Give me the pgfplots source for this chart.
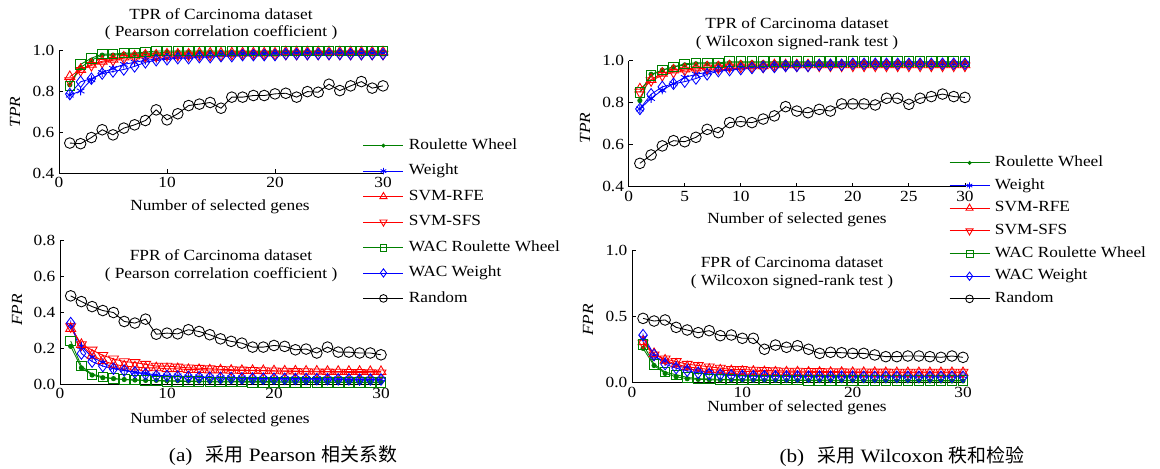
\documentclass[border=0pt]{standalone}
\usepackage{pgfplots}
\usepackage{pgfplotstable}
\pgfplotsset{compat=1.18}
\usepackage{fontspec}
\setmainfont{Liberation Serif}[FakeStretch=1.12]
\newfontfamily\cjk{Noto Sans CJK SC}
\newcommand\chartfont{\fontsize{11.6}{13.5}\selectfont}
\newcommand\capfont{\fontsize{14.2}{16}\selectfont}

\definecolor{mgreen}{RGB}{0,128,0}
\definecolor{mblue}{RGB}{0,0,255}
\definecolor{mred}{RGB}{255,0,0}

% columns: rw = Roulette Wheel, w = Weight, rfe = SVM-RFE, sfs = SVM-SFS,
% wrw = WAC Roulette Wheel, ww = WAC Weight, rnd = Random
\pgfplotstableread{
x  rw    w     rfe   sfs   wrw   ww    rnd
1  0.830 0.780 0.870 0.850 0.825 0.785 0.546
2  0.915 0.800 0.905 0.900 0.930 0.845 0.543
3  0.950 0.855 0.930 0.925 0.960 0.860 0.573
4  0.975 0.890 0.945 0.940 0.980 0.885 0.611
5  0.975 0.910 0.955 0.950 0.980 0.895 0.586
6  0.980 0.930 0.965 0.960 0.985 0.905 0.619
7  0.980 0.940 0.970 0.965 0.985 0.920 0.635
8  0.985 0.950 0.975 0.970 0.990 0.940 0.656
9  0.985 0.955 0.975 0.970 0.995 0.950 0.708
10 0.990 0.960 0.980 0.975 0.995 0.955 0.659
11 0.990 0.965 0.980 0.975 0.995 0.960 0.689
12 0.990 0.965 0.980 0.975 0.995 0.960 0.729
13 0.990 0.970 0.985 0.975 0.995 0.965 0.736
14 0.990 0.970 0.985 0.975 0.995 0.965 0.744
15 0.990 0.975 0.985 0.975 0.995 0.970 0.716
16 0.990 0.975 0.985 0.980 0.995 0.970 0.770
17 0.990 0.980 0.985 0.980 0.995 0.975 0.770
18 0.990 0.980 0.985 0.980 0.995 0.975 0.778
19 0.990 0.980 0.985 0.980 0.995 0.975 0.778
20 0.990 0.985 0.985 0.980 0.995 0.975 0.786
21 0.990 0.985 0.990 0.980 0.995 0.980 0.789
22 0.990 0.985 0.990 0.980 0.995 0.980 0.770
23 0.990 0.985 0.990 0.980 0.995 0.980 0.797
24 0.990 0.985 0.990 0.980 0.995 0.980 0.794
25 0.990 0.985 0.990 0.980 0.995 0.980 0.833
26 0.990 0.985 0.990 0.980 0.995 0.980 0.802
27 0.990 0.985 0.990 0.980 0.995 0.980 0.825
28 0.990 0.985 0.990 0.980 0.995 0.980 0.846
29 0.990 0.985 0.990 0.980 0.995 0.980 0.814
30 0.990 0.985 0.990 0.980 0.995 0.980 0.825
}\tprPearson

\pgfplotstableread{
x  rw    w     rfe   sfs   wrw   ww    rnd
1  0.210 0.330 0.310 0.320 0.240 0.340 0.492
2  0.090 0.210 0.220 0.220 0.100 0.170 0.460
3  0.050 0.150 0.160 0.190 0.055 0.125 0.432
4  0.035 0.120 0.130 0.160 0.040 0.100 0.410
5  0.030 0.090 0.110 0.140 0.030 0.085 0.399
6  0.025 0.080 0.100 0.125 0.025 0.075 0.349
7  0.022 0.065 0.095 0.120 0.022 0.065 0.340
8  0.020 0.060 0.090 0.110 0.020 0.055 0.362
9  0.020 0.050 0.090 0.100 0.018 0.045 0.278
10 0.018 0.045 0.085 0.100 0.015 0.045 0.284
11 0.018 0.045 0.085 0.095 0.015 0.042 0.280
12 0.016 0.040 0.080 0.090 0.014 0.040 0.303
13 0.016 0.040 0.080 0.088 0.013 0.038 0.293
14 0.015 0.038 0.078 0.085 0.012 0.036 0.275
15 0.015 0.036 0.078 0.082 0.012 0.035 0.252
16 0.015 0.035 0.076 0.080 0.011 0.034 0.238
17 0.014 0.034 0.075 0.078 0.011 0.032 0.228
18 0.014 0.033 0.075 0.076 0.010 0.031 0.206
19 0.013 0.032 0.074 0.075 0.010 0.030 0.206
20 0.013 0.032 0.073 0.073 0.010 0.030 0.215
21 0.012 0.031 0.072 0.072 0.010 0.029 0.210
22 0.012 0.030 0.072 0.070 0.010 0.028 0.191
23 0.012 0.030 0.071 0.069 0.009 0.028 0.195
24 0.011 0.030 0.071 0.068 0.009 0.027 0.173
25 0.011 0.029 0.070 0.067 0.009 0.027 0.206
26 0.011 0.029 0.070 0.066 0.009 0.026 0.178
27 0.010 0.028 0.070 0.065 0.008 0.026 0.178
28 0.010 0.028 0.070 0.064 0.008 0.025 0.173
29 0.010 0.028 0.069 0.063 0.008 0.025 0.173
30 0.010 0.027 0.069 0.062 0.008 0.025 0.163
}\fprPearson

\pgfplotstableread{
x  rw    w     rfe   sfs   wrw   ww    rnd
1  0.810 0.770 0.865 0.850 0.850 0.770 0.511
2  0.935 0.820 0.910 0.905 0.930 0.840 0.551
3  0.955 0.860 0.940 0.930 0.955 0.875 0.594
4  0.970 0.890 0.955 0.945 0.970 0.890 0.619
5  0.980 0.920 0.960 0.955 0.985 0.900 0.614
6  0.985 0.935 0.965 0.960 0.990 0.915 0.635
7  0.985 0.945 0.970 0.965 0.990 0.935 0.673
8  0.985 0.955 0.970 0.965 0.990 0.950 0.657
9  0.990 0.960 0.975 0.970 0.995 0.955 0.705
10 0.990 0.965 0.975 0.970 0.995 0.960 0.710
11 0.990 0.970 0.975 0.970 0.995 0.965 0.705
12 0.990 0.970 0.975 0.970 0.995 0.970 0.722
13 0.990 0.975 0.980 0.975 0.995 0.970 0.737
14 0.990 0.975 0.980 0.975 0.995 0.975 0.781
15 0.990 0.975 0.980 0.975 0.995 0.975 0.760
16 0.990 0.980 0.980 0.975 0.995 0.975 0.752
17 0.990 0.980 0.980 0.975 0.995 0.980 0.768
18 0.990 0.980 0.980 0.975 0.995 0.980 0.760
19 0.990 0.985 0.980 0.975 0.995 0.980 0.794
20 0.990 0.985 0.980 0.975 0.995 0.985 0.794
21 0.990 0.985 0.980 0.975 0.995 0.985 0.794
22 0.990 0.985 0.980 0.975 0.995 0.985 0.789
23 0.990 0.985 0.980 0.975 0.995 0.985 0.821
24 0.990 0.985 0.980 0.975 0.995 0.985 0.821
25 0.990 0.985 0.980 0.975 0.995 0.985 0.792
26 0.990 0.985 0.980 0.975 0.995 0.985 0.821
27 0.990 0.985 0.980 0.975 0.995 0.985 0.829
28 0.990 0.985 0.980 0.975 0.995 0.985 0.841
29 0.990 0.985 0.980 0.975 0.995 0.985 0.829
30 0.990 0.985 0.980 0.975 0.995 0.985 0.825
}\tprWilcoxon

\pgfplotstableread{
x  rw    w     rfe   sfs   wrw   ww    rnd
1  0.260 0.340 0.310 0.300 0.290 0.360 0.487
2  0.130 0.200 0.220 0.210 0.140 0.210 0.467
3  0.070 0.160 0.170 0.180 0.080 0.140 0.475
4  0.045 0.130 0.140 0.160 0.060 0.110 0.419
5  0.030 0.110 0.120 0.140 0.040 0.090 0.399
6  0.025 0.090 0.110 0.130 0.030 0.075 0.379
7  0.022 0.080 0.100 0.120 0.028 0.065 0.394
8  0.020 0.070 0.095 0.110 0.025 0.060 0.356
9  0.020 0.065 0.090 0.100 0.024 0.055 0.361
10 0.018 0.060 0.085 0.100 0.022 0.052 0.336
11 0.018 0.058 0.085 0.095 0.022 0.050 0.336
12 0.017 0.056 0.082 0.092 0.021 0.050 0.253
13 0.017 0.055 0.080 0.090 0.020 0.049 0.285
14 0.016 0.054 0.080 0.088 0.020 0.048 0.268
15 0.016 0.053 0.080 0.087 0.020 0.048 0.280
16 0.016 0.052 0.078 0.086 0.019 0.047 0.253
17 0.015 0.052 0.078 0.085 0.019 0.047 0.222
18 0.015 0.051 0.077 0.084 0.019 0.046 0.230
19 0.015 0.051 0.077 0.083 0.018 0.046 0.227
20 0.015 0.050 0.076 0.082 0.018 0.046 0.222
21 0.014 0.050 0.076 0.082 0.018 0.045 0.222
22 0.014 0.050 0.076 0.081 0.018 0.045 0.210
23 0.014 0.050 0.075 0.081 0.018 0.045 0.197
24 0.014 0.050 0.075 0.080 0.017 0.045 0.197
25 0.014 0.050 0.075 0.080 0.017 0.045 0.202
26 0.014 0.050 0.075 0.080 0.017 0.045 0.202
27 0.013 0.050 0.075 0.080 0.017 0.045 0.197
28 0.013 0.050 0.075 0.080 0.017 0.045 0.192
29 0.013 0.050 0.075 0.080 0.017 0.045 0.202
30 0.013 0.050 0.075 0.080 0.017 0.045 0.192
}\fprWilcoxon

\pgfplotsset{
  panel/.style={
    scale only axis, anchor=south west, clip=false,
    axis lines*=left, xmin=0, xmax=30,
    tick align=inside, major tick length=3pt,
    axis line style={line width=0.6pt},
    every tick/.style={black, line width=0.6pt},
    tick label style={font=\chartfont},
    /pgf/number format/assume math mode=true,
    yticklabel style={/pgf/number format/.cd, fixed, fixed zerofill, precision=1},
    legend cell align=left,
    legend image code/.code={\draw[mark repeat=2,mark phase=2,##1]
        plot coordinates {(0pt,0pt) (15pt,0pt) (30pt,0pt)};},
    legend image post style={every mark/.append style={scale=0.72}},
  },
  sRW/.style={mgreen, line width=0.65pt, mark=*, mark size=1.6pt},
  sW/.style={mblue, line width=0.65pt, mark=asterisk, mark size=3.3pt},
  sRFE/.style={mred, line width=0.65pt, mark=triangle, mark size=4.3pt},
  sSFS/.style={mred, line width=0.65pt, mark=triangle, mark size=4.3pt, mark options={rotate=180}},
  sWRW/.style={mgreen, line width=0.65pt, mark=square, mark size=3.6pt},
  sWW/.style={mblue, line width=0.65pt, mark=diamond, mark size=4.3pt},
  sRND/.style={black, line width=0.65pt, mark=o, mark size=4pt},
  lgd/.style={legend style={draw=none, fill=none, inner sep=0pt, outer sep=0pt,
      font=\chartfont, anchor=north west, column sep=3.75pt,
      nodes={inner sep=0pt, text height=8pt, text depth=2.5pt}}},
}

\newcommand\allseries[1]{%
  \addplot[sRW]  table[x=x,y=rw]  {#1};
  \addplot[sW]   table[x=x,y=w]   {#1};
  \addplot[sRFE] table[x=x,y=rfe] {#1};
  \addplot[sSFS] table[x=x,y=sfs] {#1};
  \addplot[sWRW] table[x=x,y=wrw] {#1};
  \addplot[sWW]  table[x=x,y=ww]  {#1};
  \addplot[sRND] table[x=x,y=rnd] {#1};
}

\begin{document}
\begin{tikzpicture}
\useasboundingbox (0,0) rectangle (870pt,351pt);

% (a) Pearson: TPR
\begin{axis}[panel, at={(44.25pt,221.25pt)}, width=243pt, height=92.25pt,
  ymin=0.4, ymax=1.0, ytick={0.4,0.6,0.8,1.0}, xtick={0,10,20,30}]
  \allseries{\tprPearson}
\end{axis}

% (a) Pearson: FPR
\begin{axis}[panel, lgd, at={(45pt,63pt)}, width=240.75pt, height=107.5pt,
  ymin=0, ymax=0.8, ytick={0,0.2,0.4,0.6,0.8}, xtick={0,10,20,30},
  legend style={at={(0.944,1.712)}, row sep=8.6pt}]
  \allseries{\fprPearson}
  \legend{Roulette Wheel, Weight, SVM-RFE, SVM-SFS, WAC Roulette Wheel, WAC Weight, Random}
\end{axis}

% (b) Wilcoxon: TPR
\begin{axis}[panel, at={(471.5pt,211pt)}, width=252.2pt, height=94.5pt,
  ymin=0.4, ymax=1.0, ytick={0.4,0.6,0.8,1.0}, xtick={0,5,...,30}]
  \allseries{\tprWilcoxon}
\end{axis}

% (b) Wilcoxon: FPR
\begin{axis}[panel, lgd, at={(474pt,64pt)}, width=248.25pt, height=99pt,
  ymin=0, ymax=1.0, ytick={0,0.5,1.0}, xtick={0,10,20,30},
  legend style={at={(0.958,1.718)}, row sep=6.5pt}]
  \allseries{\fprWilcoxon}
  \legend{Roulette Wheel, Weight, SVM-RFE, SVM-SFS, WAC Roulette Wheel, WAC Weight, Random}
\end{axis}

% titles, axis labels and sub-captions
\begin{scope}[x=0.75pt, y=-0.75pt, yshift=351pt, every node/.style={font=\chartfont, inner sep=0pt}]
  \node at (221,14) {TPR of Carcinoma dataset};
  \node at (221,33) {( Pearson correlation coefficient )};
  \node at (221,255) {FPR of Carcinoma dataset};
  \node at (221,275) {( Pearson correlation coefficient )};
  \node at (797,23) {TPR of Carcinoma dataset};
  \node at (797,43) {( Wilcoxon signed-rank test )};
  \node at (792,262) {FPR of Carcinoma dataset};
  \node at (792,282) {( Wilcoxon signed-rank test )};

  \node[rotate=90] at (15,112) {\itshape TPR};
  \node[rotate=90] at (17,310) {\itshape FPR};
  \node[rotate=90] at (585,128) {\itshape TPR};
  \node[rotate=90] at (588,320) {\itshape FPR};

  \node at (220,207) {Number of selected genes};
  \node at (220,420) {Number of selected genes};
  \node at (797,220) {Number of selected genes};
  \node at (797,408) {Number of selected genes};

  \node[font=\capfont] at (283,456) {(a)\hspace{0.7em}{\cjk 采用} Pearson {\cjk 相关系数}};
  \node[font=\capfont] at (902,456) {(b)\hspace{0.7em}{\cjk 采用} Wilcoxon {\cjk 秩和检验}};
\end{scope}
\end{tikzpicture}
\end{document}
